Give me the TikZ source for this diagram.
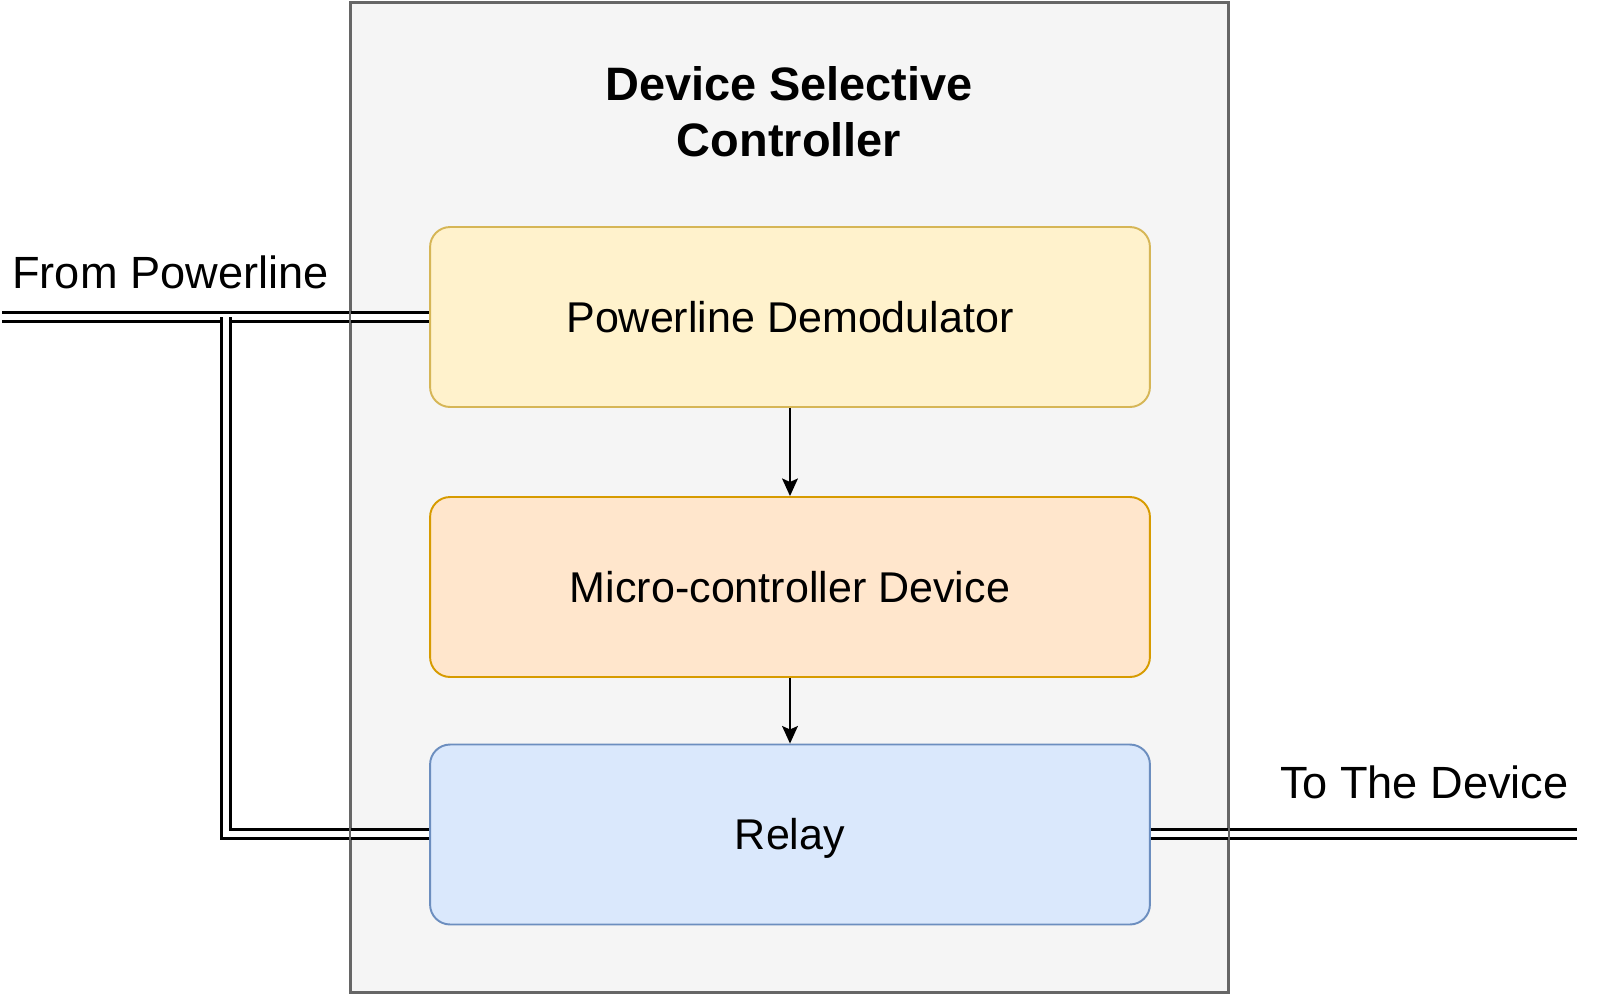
\documentclass[tikz,border=0pt]{standalone}
\usepackage{fontspec}
\setmainfont{Liberation Sans}
\usetikzlibrary{arrows.meta}
\usetikzlibrary{positioning}

\definecolor{ctrlfill}{HTML}{F5F5F5}
\definecolor{ctrldraw}{HTML}{666666}
\definecolor{demodfill}{HTML}{FFF2CC}
\definecolor{demoddraw}{HTML}{D6B656}
\definecolor{mcufill}{HTML}{FFE6CC}
\definecolor{mcudraw}{HTML}{D79B00}
\definecolor{relayfill}{HTML}{DAE8FC}
\definecolor{relaydraw}{HTML}{6C8EBF}

\begin{document}
\begin{tikzpicture}[x=0.02cm,y=-0.02cm,
  block/.style={rectangle,rounded corners=0.4cm,line width=1.1pt,minimum width=14.4cm,minimum height=3.6cm,
    text height=17.6pt,text depth=0pt,font=\fontsize{24.5}{29.4}\selectfont},
  label/.style={inner sep=0pt,font=\fontsize{25.7}{30.8}\selectfont},
  link/.style={line width=1.4pt,double=white,double distance=3.8pt},
  flow/.style={line width=1.2pt,-{Stealth[length=10pt,width=9pt,inset=2pt]}}]
\useasboundingbox (0,0) rectangle (1600,994);
\node[rectangle,fill=ctrlfill,draw=ctrldraw,line width=1.3pt,minimum width=17.54cm,minimum height=19.78cm] (ctrl) at (789.5,497.5) {};
\node[align=center,font=\fontsize{26.7}{32}\selectfont\bfseries] (title) at (789,112) {Device Selective\\Controller};

\node[label,anchor=west] (fromlbl) at (12,272) {From Powerline};
\node[label,anchor=east] (tolbl) at (1569,782) {To The Device};
\coordinate (plin) at (2,317);
\coordinate (tap) at (226,317);
\coordinate (dev) at (1577,834);

\draw[link] (plin) -- (430,317);
\draw[link] (tap) |- (430,834);
\draw[link] (1150,834) -- (dev);
\draw[ctrldraw,line width=1.3pt] (ctrl.north west) rectangle (ctrl.south east);

\node[block,fill=demodfill,draw=demoddraw] (demod) at (790,317) {Powerline Demodulator};
\node[block,fill=mcufill,draw=mcudraw] (mcu) at (790,587) {Micro-controller Device};
\node[block,fill=relayfill,draw=relaydraw] (relay) at (790,834.5) {Relay};

\draw[flow] (demod) -- (mcu);
\draw[flow] (mcu) -- (relay);
\end{tikzpicture}
\end{document}
